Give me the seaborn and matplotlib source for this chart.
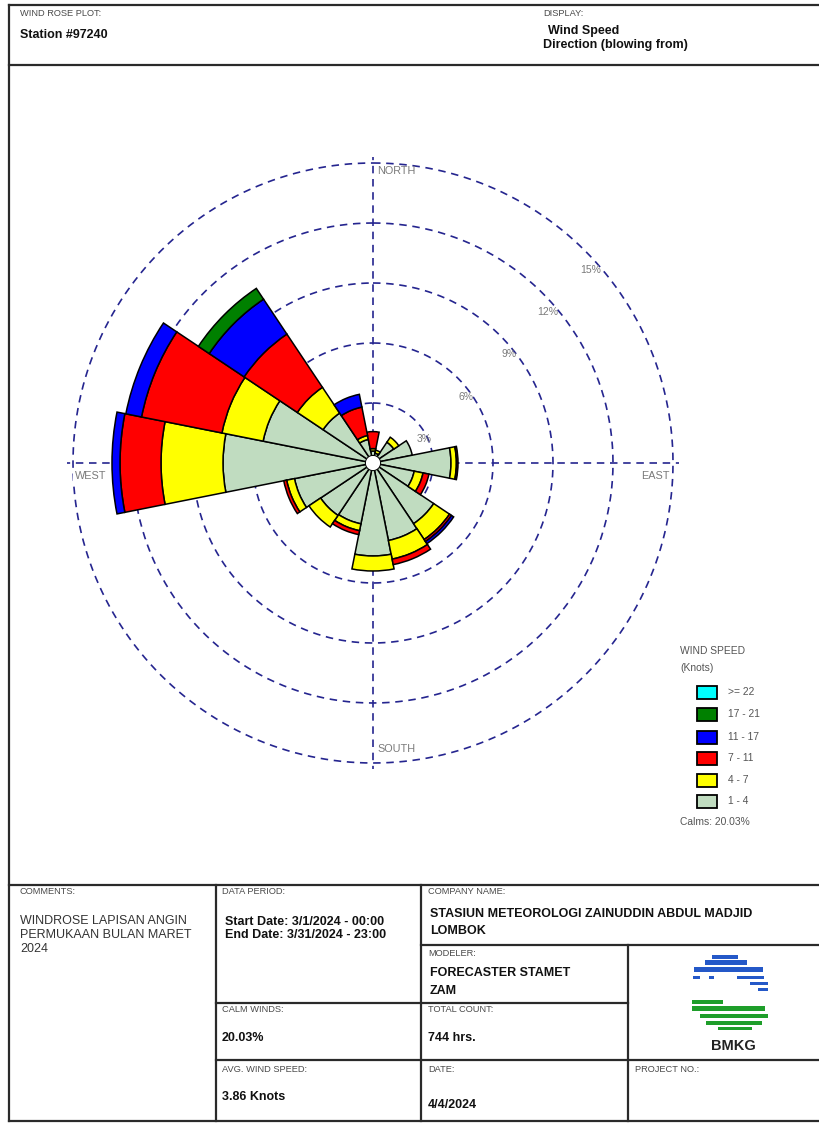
import numpy as np
import matplotlib
matplotlib.use("Agg")
import matplotlib.pyplot as plt
import seaborn as sns
from matplotlib.patches import Rectangle

# ---------------- data ----------------
directions = ["N", "NNE", "NE", "ENE", "E", "ESE", "SE", "SSE",
              "S", "SSW", "SW", "WSW", "W", "WNW", "NW", "NNW"]
direction_deg = [0, 22.5, 45, 67.5, 90, 112.5, 135, 157.5,
                 180, 202.5, 225, 247.5, 270, 292.5, 315, 337.5]

# frequency (%) per direction for each speed class (knots)
freq_1_4   = [0.60, 0.50, 1.25, 2.00, 3.90, 2.10, 3.65, 3.95,
              4.65, 3.10, 3.15, 4.00, 7.50, 5.60, 3.00, 1.20]
freq_4_7   = [0.12, 0.15, 0.30, 0.00, 0.27, 0.45, 0.95, 0.95,
              0.75, 0.35, 0.70, 0.40, 3.10, 2.10, 1.55, 0.20]
freq_7_11  = [0.85, 0.00, 0.00, 0.00, 0.08, 0.30, 0.12, 0.28,
              0.00, 0.20, 0.00, 0.15, 2.05, 4.10, 3.20, 1.45]
freq_11_17 = [0.00, 0.00, 0.00, 0.00, 0.00, 0.00, 0.13, 0.00,
              0.00, 0.00, 0.00, 0.00, 0.40, 0.80, 2.10, 0.65]
freq_17_21 = [0.00, 0.00, 0.00, 0.00, 0.00, 0.00, 0.00, 0.00,
              0.00, 0.00, 0.00, 0.00, 0.00, 0.00, 0.65, 0.00]
freq_22_up = [0.00] * 16

speed_labels = ["1 - 4", "4 - 7", "7 - 11", "11 - 17", "17 - 21", ">= 22"]
speed_colors = ["#C0DCC0", "#FFFF00", "#FF0000", "#0000FF", "#008000", "#00FFFF"]
ring_levels = [3, 6, 9, 12, 15]
calm_pct = 20.03

station = "Station #97240"
comments = ["WINDROSE LAPISAN ANGIN", "PERMUKAAN BULAN MARET", "2024"]
period = ["Start Date: 3/1/2024 - 00:00", "End Date: 3/31/2024 - 23:00"]
company = ["STASIUN METEOROLOGI ZAINUDDIN ABDUL MADJID", "LOMBOK"]
modeler = ["FORECASTER STAMET", "ZAM"]
total_count = "744 hrs."
avg_speed = "3.86 Knots"
report_date = "4/4/2024"

# ---------------- style ----------------
sns.set_style("white")
plt.rcParams["font.family"] = ["Liberation Sans", "DejaVu Sans"]

W, H = 820, 1124
fig = plt.figure(figsize=(W / 100, H / 100), dpi=100)
fig.patch.set_facecolor("white")

# ---------------- wind rose ----------------
cx, cy = 373, 463          # rose centre in pixels
px_per_pct = 20.0
r_max = 15.4
R = r_max * px_per_pct
pax = fig.add_axes([(cx - R) / W, (H - cy - R) / H, 2 * R / W, 2 * R / H],
                   projection="polar", zorder=2)
pax.set_theta_zero_location("N")
pax.set_theta_direction(-1)
pax.set_ylim(0, r_max)
pax.set_axis_off()

navy = "#25258F"
dash = (0, (4.5, 3.4))
ring_theta = np.linspace(0, 2 * np.pi, 721)
for lvl in ring_levels:
    pax.plot(ring_theta, np.full_like(ring_theta, lvl), color=navy,
             lw=1.2, linestyle=dash, zorder=1)
for ang in [0, 90, 180, 270]:
    pax.plot([np.deg2rad(ang)] * 2, [0, 15.3], color=navy, lw=1.2,
             linestyle=dash, zorder=1)

theta = np.deg2rad(direction_deg)
width = np.deg2rad(22.5)
series = [freq_1_4, freq_4_7, freq_7_11, freq_11_17, freq_17_21, freq_22_up]
palette = sns.color_palette(speed_colors)
bottom = np.zeros(len(directions))
for vals, col in zip(series, palette):
    vals = np.asarray(vals)
    keep = vals > 0
    if keep.any():
        pax.bar(theta[keep], vals[keep], width=width, bottom=bottom[keep],
                color=col, edgecolor="black", linewidth=1.1, zorder=3)
    bottom += vals

# calm circle in the middle
pax.bar(0, 0.38, width=2 * np.pi, bottom=0, color="white",
        edgecolor="none", zorder=4)
pax.plot(ring_theta, np.full_like(ring_theta, 0.38), color="black",
         lw=0.7, zorder=4)

# ring labels
for lvl in ring_levels:
    pax.annotate(f"{lvl}%", xy=(np.deg2rad(45), lvl), xytext=(11.5, -13.5),
                 textcoords="offset points", ha="right", va="center",
                 fontsize=7.5, color="#7a7a7a", zorder=5)

# compass labels
lab_kw = dict(textcoords="offset points", fontsize=7.8, color="#7a7a7a",
              va="center", zorder=5)
pax.annotate("NORTH", xy=(0, 15), xytext=(3, -5.5), ha="left", **lab_kw)
pax.annotate("SOUTH", xy=(np.pi, 15), xytext=(3, 10), ha="left", **lab_kw)
pax.annotate("EAST", xy=(np.pi / 2, 15), xytext=(-2.5, -9.3), ha="right", **lab_kw)
pax.annotate("WEST", xy=(3 * np.pi / 2, 15), xytext=(1.5, -9.3), ha="left",
             bbox=dict(boxstyle="square,pad=0.15", fc="white", ec="none"),
             **lab_kw)

# ---------------- frame, header, legend, info table ----------------
ov = fig.add_axes([0, 0, 1, 1], zorder=3)
ov.set_xlim(0, W)
ov.set_ylim(H, 0)
ov.set_axis_off()
ov.patch.set_alpha(0)

lc = "#2a2a2a"
lw = 1.6


def hline(y, x0, x1):
    ov.plot([x0, x1], [y, y], color=lc, lw=lw, solid_capstyle="projecting")


def vline(x, y0, y1):
    ov.plot([x, x], [y0, y1], color=lc, lw=lw, solid_capstyle="projecting")


hline(5, 9, 822)
hline(65, 9, 822)
hline(885, 9, 822)
hline(1121, 9, 822)
vline(9, 5, 1121)
vline(216, 885, 1121)
vline(421, 885, 1121)
vline(628, 945, 1121)
hline(945, 421, 822)
hline(1003, 216, 628)
hline(1060, 216, 822)

cap_kw = dict(fontsize=6.7, color="#4a4a4a", va="center", ha="left")
val_kw = dict(fontsize=9, color="#111111", va="center", ha="left",
              fontweight="bold")

# header
ov.text(20, 13, "WIND ROSE PLOT:", **cap_kw)
ov.text(20, 35, station, **val_kw)
ov.text(543, 13, "DISPLAY:", **cap_kw)
ov.text(548, 31, "Wind Speed", **val_kw)
ov.text(543, 45, "Direction (blowing from)", **val_kw)

# legend
leg_kw = dict(fontsize=7.4, color="#555555", va="center", ha="left")
ov.text(680, 651, "WIND SPEED", **leg_kw)
ov.text(680, 668, "(Knots)", **leg_kw)
leg_y = [801, 780, 758, 737, 714, 692]
for lab, col, y in zip(speed_labels, speed_colors, leg_y):
    ov.add_patch(Rectangle((697, y - 6.5), 20, 13, fc=col, ec="black", lw=1.3))
    ov.text(728, y, lab, **leg_kw)
ov.text(680, 822, f"Calms: {calm_pct:.2f}%", **leg_kw)

# info table
ov.text(20, 892, "COMMENTS:", **cap_kw)
for i, line in enumerate(comments):
    ov.text(20, 921 + 14 * i, line, fontsize=9, color="#333333",
            va="center", ha="left")
ov.text(222, 892, "DATA PERIOD:", **cap_kw)
ov.text(225, 922, period[0], **val_kw)
ov.text(225, 935, period[1], **val_kw)
ov.text(428, 892, "COMPANY NAME:", **cap_kw)
ov.text(430, 914, company[0], **val_kw)
ov.text(430, 931, company[1], **val_kw)
ov.text(428, 953, "MODELER:", **cap_kw)
ov.text(430, 973, modeler[0], **val_kw)
ov.text(430, 991, modeler[1], **val_kw)
ov.text(222, 1010, "CALM WINDS:", **cap_kw)
ov.text(222, 1038, f"{calm_pct:.2f}%", **val_kw)
ov.text(428, 1010, "TOTAL COUNT:", **cap_kw)
ov.text(428, 1038, total_count, **val_kw)
ov.text(222, 1069, "AVG. WIND SPEED:", **cap_kw)
ov.text(222, 1097, avg_speed, **val_kw)
ov.text(428, 1069, "DATE:", **cap_kw)
ov.text(428, 1105, report_date, **val_kw)
ov.text(635, 1069, "PROJECT NO.:", **cap_kw)

# BMKG emblem
logo_blue = "#2458C8"
logo_green = "#1E9E2A"
blue_bars = [(712, 955, 26, 4), (705, 960, 42, 5), (694, 967, 69, 5),
             (693, 976, 7, 3), (709, 976, 5, 3), (737, 976, 27, 3),
             (750, 982, 18, 3), (758, 988, 10, 3)]
green_bars = [(692, 1000, 31, 4), (692, 1006, 73, 5), (700, 1014, 68, 4),
              (706, 1021, 56, 4), (718, 1027, 34, 3)]
for x, y, w, h in blue_bars:
    ov.add_patch(Rectangle((x, y), w, h, fc=logo_blue, ec="none"))
for x, y, w, h in green_bars:
    ov.add_patch(Rectangle((x, y), w, h, fc=logo_green, ec="none"))
ov.text(733, 1046, "BMKG", fontsize=10.5, fontweight="bold", color="#222222",
        ha="center", va="center")

fig.savefig("out.png", dpi=100)
